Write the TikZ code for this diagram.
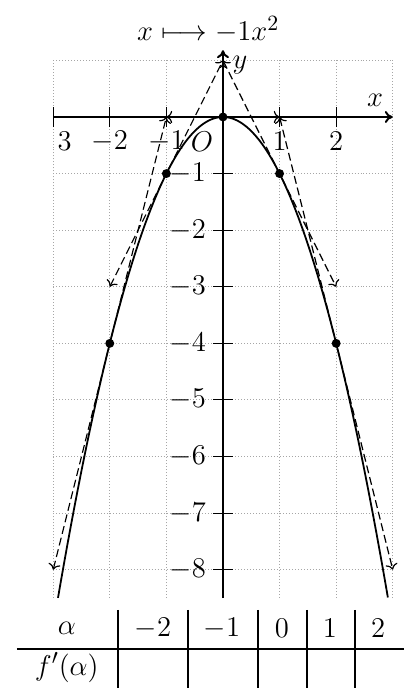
\documentclass[tikz,border=0pt]{standalone}
\usetikzlibrary{arrows.meta}
\begin{document}
\begin{tikzpicture}[x=1cm,y=1cm,font=\fontsize{15}{18}\selectfont,
  gridline/.style={gray!70,densely dotted,line width=0.5pt},
  axisline/.style={line width=1pt},
  tickline/.style={line width=0.5pt},
  curveline/.style={line width=0.9pt},
  tangent/.style={line width=0.6pt,dash pattern=on 4pt off 2pt,<->,>=To},
  dotmark/.style={circle,fill=black,inner sep=0pt,minimum size=4.5pt},
  tabline/.style={line width=1.1pt},
  lbl/.style={inner sep=1pt}]
\useasboundingbox (-3.94,-10.09) rectangle (3.32,2.067);
% grid
\foreach \i in {-3,...,3} \draw[gridline] (\i,-8.5) -- (\i,1);
\foreach \j in {-8,...,1} \draw[gridline] (-3,\j) -- (3,\j);
% axes
\coordinate (xl) at (-3,0); \coordinate (xr) at (3,0);
\coordinate (yb) at (0,-8.5); \coordinate (yt) at (0,1.18);
\draw[axisline,-{To[length=4pt,width=6pt]}] (xl) -- (xr);
\draw[axisline,-{To[length=4pt,width=6pt]}] (yb) -- (yt);
% ticks
\foreach \i in {-3,-2,-1,1,2} \draw[tickline] (\i,-0.18) -- (\i,0.18);
\foreach \j in {-8,...,-1} \draw[tickline] (-0.18,\j) -- (0.18,\j);
% tick labels
\node[lbl] (t3) at (-2.80,-0.43) {$3$};
\node[lbl] (tm2) at (-2,-0.43) {$-2$};
\node[lbl] (tm1) at (-1,-0.43) {$-1$};
\node[lbl] (t1) at (1,-0.43) {$1$};
\node[lbl] (t2) at (2,-0.43) {$2$};
\foreach \j in {1,...,8} \node[lbl,anchor=east] (ty\j) at (-0.26,-\j) {$-\j$};
\node[lbl] (O) at (-0.37,-0.43) {$O$};
\node[lbl] (xlab) at (2.69,0.30) {$x$};
\node[lbl] (ylab) at (0.30,0.92) {$y$};
\node[lbl] (title) at (-0.26,1.54) {$x\longmapsto -1x^2$};
% curve
\draw[curveline] plot[domain=-2.915:2.915,samples=120,smooth] (\x,{-(\x)^2});
% tangent endpoints
\coordinate (a1) at (-3,-8); \coordinate (a2) at (-1,0);
\coordinate (b1) at (-2,-3); \coordinate (b2) at (0,1);
\coordinate (c1) at (-1,0); \coordinate (c2) at (1,0);
\coordinate (d1) at (0,1); \coordinate (d2) at (2,-3);
\coordinate (e1) at (1,0); \coordinate (e2) at (3,-8);
\draw[tangent] (a1) -- (a2);
\draw[tangent] (b1) -- (b2);
\draw[tangent] (c1) -- (c2);
\draw[tangent] (d1) -- (d2);
\draw[tangent] (e1) -- (e2);
% points
\node[dotmark] (p1) at (-2,-4) {};
\node[dotmark] (p2) at (-1,-1) {};
\node[dotmark] (p3) at (0,0) {};
\node[dotmark] (p4) at (1,-1) {};
\node[dotmark] (p5) at (2,-4) {};
% table
\coordinate (hl) at (-3.64,-9.40); \coordinate (hr) at (3.20,-9.40);
\draw[tabline] (hl) -- (hr);
\foreach \v [count=\k] in {-1.855,-0.618,0.618,1.484,2.332} {
  \coordinate (vt\k) at (\v,-8.71); \coordinate (vb\k) at (\v,-10.09);
  \draw[tabline] (vt\k) -- (vb\k);
}
\node[lbl] (ha) at (-2.76,-9.03) {$\alpha$};
\node[lbl] (h1) at (-1.237,-9.03) {$-2$};
\node[lbl] (h2) at (-0.018,-9.03) {$-1$};
\node[lbl] (h3) at (1.04,-9.03) {$0$};
\node[lbl] (h4) at (1.89,-9.03) {$1$};
\node[lbl] (h5) at (2.74,-9.03) {$2$};
\node[lbl] (hf) at (-2.76,-9.73) {$f'(\alpha)$};
\end{tikzpicture}
\end{document}
